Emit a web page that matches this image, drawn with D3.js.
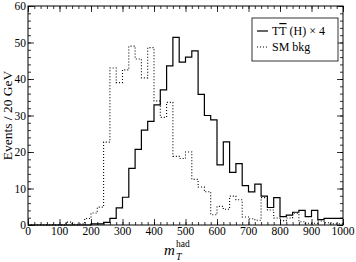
<!DOCTYPE html>
<html>
<head>
<meta charset="utf-8">
<script src="https://cdn.jsdelivr.net/npm/d3@7"></script>
<style>
body { margin: 0; background: #fff; }
</style>
</head>
<body>
<svg id="chart"></svg>
<script>
// bin edges 0..1000 every 20 GeV
var binLow = d3.range(0, 1000, 20);

// TTbar (H) x 4, one value per bin
var signal = [0,0,0,0,0, 0,0,0,0,0,
  0.3,0.3,0.7,1.8,4.7, 7.6,15.5,20.7,26,28.4,
  32.9,37,43.6,51.4,44.6, 46,47.7,35.8,30,28.8,
  16.5,22.8,14.4,16.8,10.8, 9.1,11.2,7.9,4.8,7.5,
  2.3,2.7,3.5,4,2.3, 4,1.5,1.8,1.8,1.8];

// SM background
var smbkg = [0,0,0,0,0, 0,0.8,0.2,0.3,1.8,
  3.3,4.9,22.7,43,39, 42.5,49,45.5,40.3,48.6,
  34,29.5,33.6,18.8,18.2, 20,12.5,10.4,9.1,2.8,
  5.1,4.3,7.9,6.9,2.2, 1.7,1.3,7.5,4.1,1.9,
  1.2,1.9,3.2,0.9,0.5, 0.5,1.1,0.6,0.3,0.3];

var xTicks = d3.range(0, 1001, 100);
var yTicks = d3.range(0, 61, 10);

var serif = "'Liberation Serif', 'Times New Roman', Times, serif";
var width = 356, height = 262;
var margin = {left: 28, right: 13, top: 6, bottom: 37};

var svg = d3.select("#chart").attr("width", width).attr("height", height)
  .attr("font-family", serif);

var x = d3.scaleLinear().domain([0, 1000]).range([margin.left, width - margin.right]);
var y = d3.scaleLinear().domain([0, 60]).range([height - margin.bottom, margin.top]);

// frame
svg.append("rect")
  .attr("x", x(0)).attr("y", y(60))
  .attr("width", x(1000) - x(0)).attr("height", y(0) - y(60))
  .attr("fill", "none").attr("stroke", "#000").attr("stroke-width", 1);

var xMinor = d3.range(0, 1001, 20);
var yMinor = d3.range(0, 61, 2);

// ticks pointing inward on all four sides
var gxb = svg.append("g").attr("transform", "translate(0," + y(0) + ")");
gxb.call(d3.axisTop(x).tickValues(xMinor).tickSize(3).tickFormat(""));
gxb.append("g").call(d3.axisTop(x).tickValues(xTicks).tickSize(6).tickFormat(""));

var gxt = svg.append("g").attr("transform", "translate(0," + y(60) + ")");
gxt.call(d3.axisBottom(x).tickValues(xMinor).tickSize(3).tickFormat(""));
gxt.append("g").call(d3.axisBottom(x).tickValues(xTicks).tickSize(6).tickFormat(""));

var gyl = svg.append("g").attr("transform", "translate(" + x(0) + ",0)");
gyl.call(d3.axisRight(y).tickValues(yMinor).tickSize(3).tickFormat(""));
gyl.append("g").call(d3.axisRight(y).tickValues(yTicks).tickSize(6).tickFormat(""));

var gyr = svg.append("g").attr("transform", "translate(" + x(1000) + ",0)");
gyr.call(d3.axisLeft(y).tickValues(yMinor).tickSize(3).tickFormat(""));
gyr.append("g").call(d3.axisLeft(y).tickValues(yTicks).tickSize(6).tickFormat(""));

svg.selectAll(".domain").remove();
svg.selectAll(".tick text").remove();
svg.selectAll(".tick line").attr("stroke", "#000").attr("stroke-width", 0.8);

// tick labels
svg.append("g").selectAll("text").data(xTicks).join("text")
  .attr("x", d => x(d)).attr("y", y(0) + 10)
  .attr("text-anchor", "middle").attr("font-size", 11.5)
  .text(d => d);
svg.append("g").selectAll("text").data(yTicks).join("text")
  .attr("x", x(0) - 2).attr("y", d => y(d) + 4)
  .attr("text-anchor", "end").attr("font-size", 11.5)
  .text(d => d);

// histograms as steps
function stepPts(vals) {
  var pts = vals.map((v, i) => [binLow[i], v]);
  pts.push([1000, vals[vals.length - 1]]);
  return pts;
}
var line = d3.line()
  .x(d => x(d[0])).y(d => y(d[1]))
  .curve(d3.curveStepAfter);

svg.append("path").datum(stepPts(smbkg))
  .attr("d", line).attr("fill", "none")
  .attr("stroke", "#000").attr("stroke-width", 1.1)
  .attr("stroke-dasharray", "1,2");

svg.append("path").datum(stepPts(signal))
  .attr("d", line).attr("fill", "none")
  .attr("stroke", "#000").attr("stroke-width", 1.2);

// axis titles
svg.append("text")
  .attr("transform", "translate(12," + ((y(0) + y(60)) / 2) + ") rotate(-90)")
  .attr("text-anchor", "middle").attr("font-size", 13.5)
  .text("Events / 20 GeV");

// m_T with "had" stacked above the subscript
var xt = svg.append("g");
xt.append("text").attr("x", 164).attr("y", 255)
  .attr("font-size", 15).attr("font-style", "italic").text("m");
xt.append("text").attr("x", 176).attr("y", 259.5)
  .attr("font-size", 10).attr("font-style", "italic").text("T");
xt.append("text").attr("x", 176).attr("y", 246.5)
  .attr("font-size", 9.5).text("had");

// legend
var lg = svg.append("g");
lg.append("rect").attr("x", 252).attr("y", 18).attr("width", 86).attr("height", 43)
  .attr("fill", "#fff").attr("stroke", "#000").attr("stroke-width", 0.8);
lg.append("line").attr("x1", 257).attr("x2", 268).attr("y1", 31).attr("y2", 31)
  .attr("stroke", "#000").attr("stroke-width", 1.2);
lg.append("line").attr("x1", 257).attr("x2", 268).attr("y1", 47).attr("y2", 47)
  .attr("stroke", "#000").attr("stroke-width", 1.1).attr("stroke-dasharray", "1,2");
var t1 = lg.append("text").attr("x", 272).attr("y", 35).attr("font-size", 12);
t1.append("tspan").text("T");
t1.append("tspan").style("text-decoration", "overline").text("T");
t1.append("tspan").text(" (H) \u00d7 4");
lg.append("text").attr("x", 272).attr("y", 51).attr("font-size", 12).text("SM bkg");
</script>
</body>
</html>
